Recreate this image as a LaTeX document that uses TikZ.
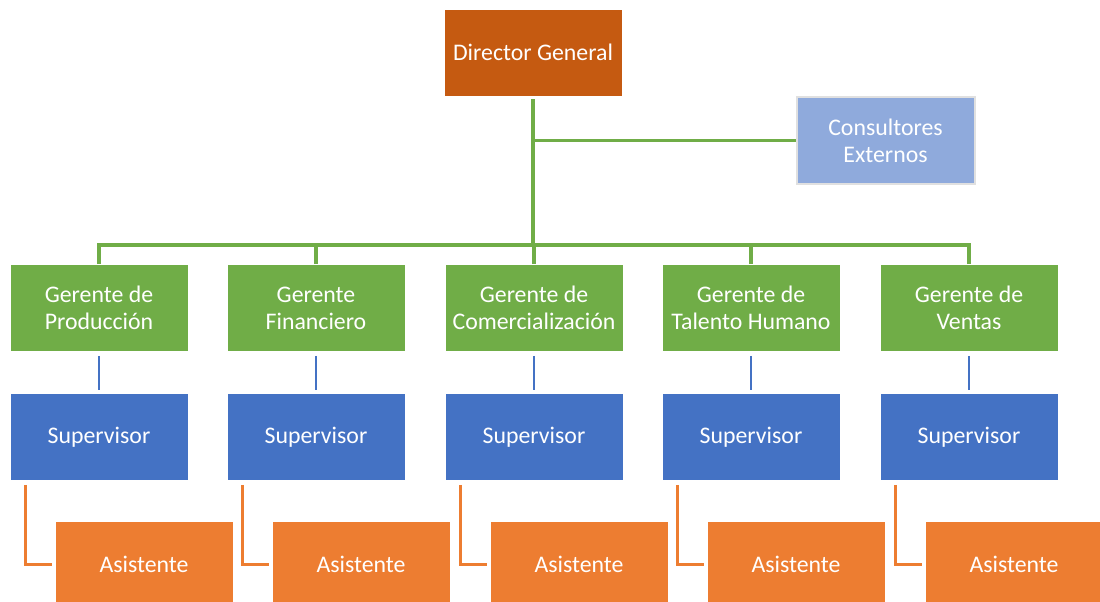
\documentclass[tikz,border=0pt]{standalone}
\usepackage{fontspec}
\setmainfont{Carlito}
\usetikzlibrary{positioning}
\definecolor{dirc}{HTML}{C55A11}
\definecolor{consc}{HTML}{8FAADC}
\definecolor{gerc}{HTML}{70AD47}
\definecolor{supc}{HTML}{4472C4}
\definecolor{asic}{HTML}{ED7D31}
\tikzset{
  caja/.style={minimum width=178pt, minimum height=87pt, inner sep=2pt, text=white,
    align=center, draw=white, line width=0.6pt, font=\fontsize{23.8}{27}\selectfont},
  ramaverde/.style={draw=gerc, line width=3.2pt},
  ramaazul/.style={draw=supc, line width=2.6pt},
  ramanaranja/.style={draw=asic, line width=2.6pt}
}

\begin{document}
\begin{tikzpicture}[x=1pt,y=-1pt]
\useasboundingbox (0,0) rectangle (1100,602);
\clip (0,0) rectangle (1100,602);
\node[caja, fill=dirc] (dir) at (533,52.5) {Director General};
\node[caja, fill=consc, draw=black!12, line width=2pt] (cons) at (885.5,140.5) {Consultores\\Externos};
\coordinate (bus) at (dir.south |- 0,245);

\draw[ramaverde, shorten <=3pt] (dir.south) -- (bus);
\draw[ramaverde, shorten <=3pt] (dir.south) |- (cons.west);

\foreach \i/\x/\nombre in {1/99/{Gerente de\\Producción}, 2/316/{Gerente\\Financiero},
    3/534/{Gerente de\\Comercialización}, 4/751/{Gerente de\\Talento Humano},
    5/969/{Gerente de\\Ventas}}{
  \node[caja, fill=gerc] (ger\i) at (\x,308) {\nombre};
  \node[caja, fill=supc] (sup\i) at (\x,437) {Supervisor};
  \node[caja, fill=asic] (asi\i) at (\x+45,564.5) {Asistente};
  \draw[ramaverde] (ger\i.north) |- (bus);
  \draw[ramaazul, shorten <=4pt, shorten >=3pt] (ger\i) -- (sup\i);
  \draw[ramanaranja, shorten >=3pt] ([xshift=16pt,yshift=-4pt]sup\i.south west) |- (asi\i.west);
}
\end{tikzpicture}
\end{document}
